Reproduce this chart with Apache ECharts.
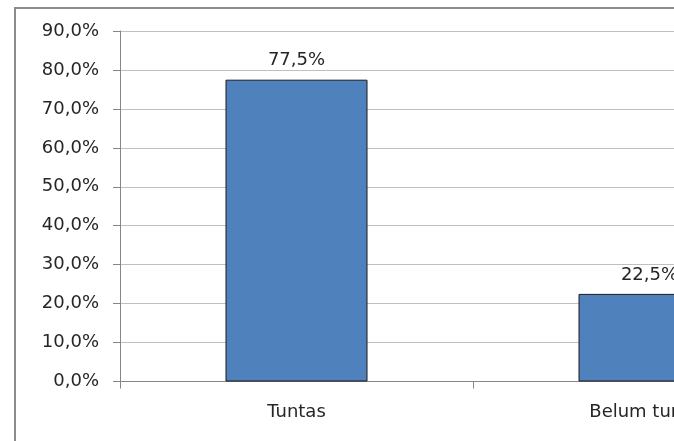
<!DOCTYPE html>
<html>
<head>
<meta charset="utf-8">
<script src="https://cdn.jsdelivr.net/npm/echarts@6/dist/echarts.min.js"></script>
<style>
html,body{margin:0;padding:0;background:#fff;overflow:hidden;}
#chart{position:absolute;left:0;top:0;width:900px;height:441px;}
</style>
</head>
<body>
<div id="chart"></div>
<script>
const categories = ['Tuntas', 'Belum tuntas'];
const values = [77.5, 22.5];
const yMin = 0, yMax = 90, yStep = 10;

function pct(v){ return v.toFixed(1).replace('.', ',') + '%'; }

const chart = echarts.init(document.getElementById('chart'), null, {renderer:'canvas'});
const font = 'DejaVu Sans';
chart.setOption({
  animation: false,
  backgroundColor: '#ffffff',
  graphic: [{
    type: 'rect', silent: true, z: 100,
    shape: {x: 15, y: 8, width: 1200, height: 1000},
    style: {fill: 'none', stroke: '#8c8c8c', lineWidth: 2}
  }],
  grid: {left: 120, top: 31, width: 706, height: 350.5},
  xAxis: {
    type: 'category',
    data: categories,
    boundaryGap: true,
    axisLine: {lineStyle: {color: '#868686', width: 1}},
    axisTick: {show: true, length: 7, alignWithLabel: false, lineStyle: {color: '#868686'}},
    axisLabel: {color: '#262626', fontFamily: font, fontSize: 18, margin: 22}
  },
  yAxis: {
    type: 'value',
    min: yMin, max: yMax, interval: yStep,
    axisLine: {show: true, lineStyle: {color: '#868686', width: 1}},
    axisTick: {show: true, length: 7, lineStyle: {color: '#868686'}},
    axisLabel: {color: '#262626', fontFamily: font, fontSize: 18, margin: 21,
      formatter: function(v){ return pct(v); }},
    splitLine: {show: true, lineStyle: {color: '#c0c0c0', width: 1}}
  },
  series: [{
    type: 'bar',
    data: values,
    barWidth: 142,
    itemStyle: {color: '#4f81bd', borderColor: '#1a1a1a', borderWidth: 1},
    label: {show: true, position: 'top', distance: 10, color: '#262626',
      fontFamily: font, fontSize: 18,
      formatter: function(p){ return pct(p.value); }}
  }]
});
</script>
</body>
</html>
